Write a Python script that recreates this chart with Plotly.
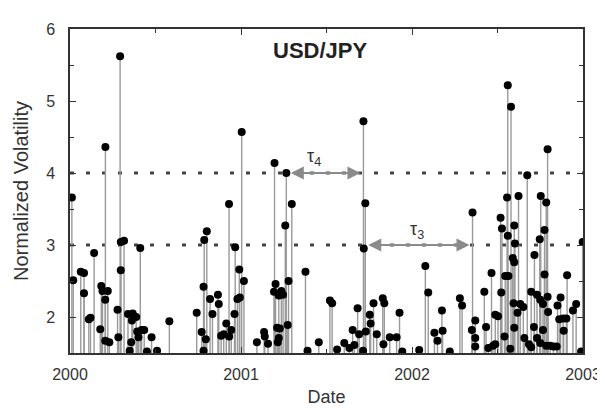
import plotly.graph_objects as go

# decimal year of each volatility event
event_time = [
    2000.011, 2000.019, 2000.063, 2000.082, 2000.082, 2000.110, 2000.120, 2000.141,
    2000.177, 2000.183, 2000.190, 2000.206, 2000.206, 2000.207, 2000.221, 2000.230,
    2000.278, 2000.283, 2000.293, 2000.297, 2000.297, 2000.316, 2000.339, 2000.349,
    2000.358, 2000.362, 2000.367, 2000.387, 2000.393, 2000.400, 2000.411, 2000.419,
    2000.434, 2000.450, 2000.477, 2000.509, 2000.581,
    2000.741, 2000.770, 2000.781, 2000.781, 2000.785, 2000.794, 2000.800, 2000.819,
    2000.833, 2000.865, 2000.870, 2000.884, 2000.899, 2000.914, 2000.930, 2000.931,
    2000.943, 2000.962, 2000.966, 2000.979, 2000.990, 2000.993, 2001.004, 2001.017,
    2001.093, 2001.135, 2001.139, 2001.158, 2001.193, 2001.196, 2001.202, 2001.211,
    2001.215, 2001.221, 2001.221, 2001.227, 2001.236, 2001.246, 2001.259, 2001.265,
    2001.273, 2001.278, 2001.297, 2001.377, 2001.389, 2001.455,
    2001.520, 2001.533, 2001.562, 2001.604, 2001.634, 2001.653, 2001.663, 2001.682,
    2001.691, 2001.714, 2001.716, 2001.718, 2001.727, 2001.730, 2001.753, 2001.758,
    2001.775, 2001.794, 2001.829, 2001.833, 2001.838, 2001.870, 2001.910, 2001.927,
    2001.943,
    2002.042, 2002.078, 2002.095, 2002.131, 2002.149, 2002.175, 2002.179, 2002.221,
    2002.280, 2002.293, 2002.350, 2002.354, 2002.370, 2002.370, 2002.370, 2002.423,
    2002.433, 2002.446, 2002.465, 2002.474, 2002.487, 2002.487, 2002.503, 2002.518,
    2002.522, 2002.526, 2002.541, 2002.545, 2002.556, 2002.560, 2002.560, 2002.564,
    2002.575, 2002.579, 2002.589, 2002.594, 2002.598, 2002.598, 2002.598, 2002.602,
    2002.617, 2002.623, 2002.633, 2002.651, 2002.657, 2002.674, 2002.684, 2002.697,
    2002.697, 2002.713, 2002.716, 2002.731, 2002.731, 2002.747, 2002.750, 2002.750,
    2002.753, 2002.766, 2002.766, 2002.775, 2002.775, 2002.785, 2002.785, 2002.793,
    2002.793, 2002.796, 2002.808, 2002.827, 2002.846, 2002.851, 2002.861, 2002.869,
    2002.884, 2002.887, 2002.903, 2002.907, 2002.941, 2002.960, 2002.989, 2002.998,
]
volatility = [
    3.66, 2.51, 2.63, 2.61, 2.33, 1.97, 1.99, 2.89,
    1.83, 2.43, 2.36, 2.24, 1.67, 4.36, 2.36, 1.65,
    2.10, 1.72, 5.62, 3.04, 2.65, 3.06, 2.04, 1.53,
    1.65, 1.95, 2.05, 2.00, 1.80, 1.72, 2.96, 1.82,
    1.82, 1.52, 1.72, 1.53, 1.94,
    2.06, 1.79, 2.42, 1.53, 3.07, 1.69, 3.19, 2.25,
    2.04, 2.31, 2.18, 1.74, 1.76, 1.91, 3.57, 1.73,
    1.82, 2.04, 2.97, 2.25, 2.66, 2.27, 4.57, 2.50,
    1.65, 1.79, 1.73, 1.63, 2.35, 4.14, 2.46, 1.85,
    1.65, 2.30, 1.71, 1.84, 2.36, 2.31, 3.27, 4.00,
    1.89, 2.50, 3.57, 2.63, 1.53, 1.65,
    2.23, 2.19, 1.55, 1.64, 1.57, 1.82, 1.61, 2.12,
    1.76, 1.53, 4.72, 2.95, 3.58, 1.80, 2.03, 1.91,
    2.19, 1.76, 2.26, 1.62, 2.19, 1.72, 1.72, 2.06,
    1.52,
    1.54, 2.71, 2.34, 1.78, 1.67, 2.09, 1.81, 1.52,
    2.26, 2.16, 1.82, 3.45, 1.95, 1.71, 1.59, 2.35,
    1.86, 1.57, 2.61, 1.60, 2.03, 1.62, 2.01, 3.38,
    2.34, 3.23, 1.73, 2.57, 3.66, 3.13, 5.22, 2.57,
    1.56, 4.92, 2.82, 2.19, 2.76, 3.27, 1.85, 3.02,
    2.06, 3.68, 2.18, 2.14, 1.71, 3.97, 1.62, 2.35,
    1.58, 1.86, 2.86, 2.31, 1.71, 3.08, 2.24, 1.64,
    3.68, 2.18, 1.82, 3.21, 2.59, 3.59, 1.60, 4.33,
    2.28, 2.07, 1.60, 1.59, 1.59, 2.16, 1.97, 2.27,
    1.98, 1.81, 1.98, 2.58, 2.09, 2.18, 1.52, 3.04,
]

thresholds = [3, 4]
baseline = 1.5
# interval arrows
tau_labels = ["τ<sub>4</sub>", "τ<sub>3</sub>"]
tau_start = [2001.265, 2001.718]
tau_end = [2001.716, 2002.354]
tau_level = [4.0, 3.0]
tau_label_x = [2001.427, 2002.029]
tau_label_y = [4.22, 3.20]

x_ticks = [2000, 2001, 2002, 2003]
y_ticks = [2, 3, 4, 5, 6]

stem_x, stem_y = [], []
for t, v in zip(event_time, volatility):
    stem_x += [t, t, None]
    stem_y += [baseline, v, None]

fig = go.Figure()
for th in thresholds:
    fig.add_shape(type="line", xref="paper", x0=0, x1=1, yref="y", y0=th, y1=th,
                  line=dict(color="#444444", width=3, dash="4px,12px"), layer="below")

fig.add_trace(go.Scatter(x=stem_x, y=stem_y, mode="lines",
                         line=dict(color="#9a9a9a", width=1.4), hoverinfo="skip",
                         showlegend=False))
fig.add_trace(go.Scatter(x=event_time, y=volatility, mode="markers",
                         marker=dict(color="black", size=8), showlegend=False))

for lab, s, e, lv, lx, ly in zip(tau_labels, tau_start, tau_end, tau_level,
                                 tau_label_x, tau_label_y):
    fig.add_annotation(x=e, y=lv, ax=s, ay=lv, xref="x", yref="y", axref="x", ayref="y",
                       text="", showarrow=True, arrowhead=2, arrowside="end+start",
                       arrowsize=1.3, arrowwidth=2, arrowcolor="#8a8a8a",
                       standoff=3, startstandoff=3)
    fig.add_annotation(x=lx, y=ly, xref="x", yref="y", text=lab,
                       showarrow=False, font=dict(family="Arial", size=18, color="#333333"))

fig.add_annotation(x=2001.46, y=5.70, xref="x", yref="y", text="<b>USD/JPY</b>",
                   showarrow=False, font=dict(family="Arial", size=22, color="#222222"))

axis_common = dict(showgrid=False, zeroline=False, showline=True, linecolor="#333333",
                   linewidth=1.5, mirror="ticks", ticks="inside", ticklen=6,
                   tickwidth=1.2, tickcolor="#333333",
                   tickfont=dict(family="Arial", size=16, color="#333333"))

fig.update_xaxes(range=[2000, 2003], tickvals=x_ticks,
                 ticktext=[str(v) for v in x_ticks], ticklabelstandoff=6,
                 minor=dict(dtick=0.5, tick0=2000, ticks="inside", ticklen=4,
                            tickcolor="#333333"),
                 title=dict(text="Date", font=dict(family="Arial", size=18, color="#333333"),
                            standoff=8),
                 **axis_common)
fig.update_yaxes(range=[1.5, 6], tickvals=y_ticks, ticklabelstandoff=10,
                 minor=dict(dtick=0.5, tick0=1.5, ticks="inside", ticklen=4,
                            tickcolor="#333333"),
                 title=dict(text="Normalized Volatility",
                            font=dict(family="Arial", size=20, color="#333333"),
                            standoff=12),
                 **axis_common)

fig.update_layout(width=605, height=408, margin=dict(l=62, r=18, t=21, b=54),
                  plot_bgcolor="white", paper_bgcolor="white")

fig.write_html("out.html")
